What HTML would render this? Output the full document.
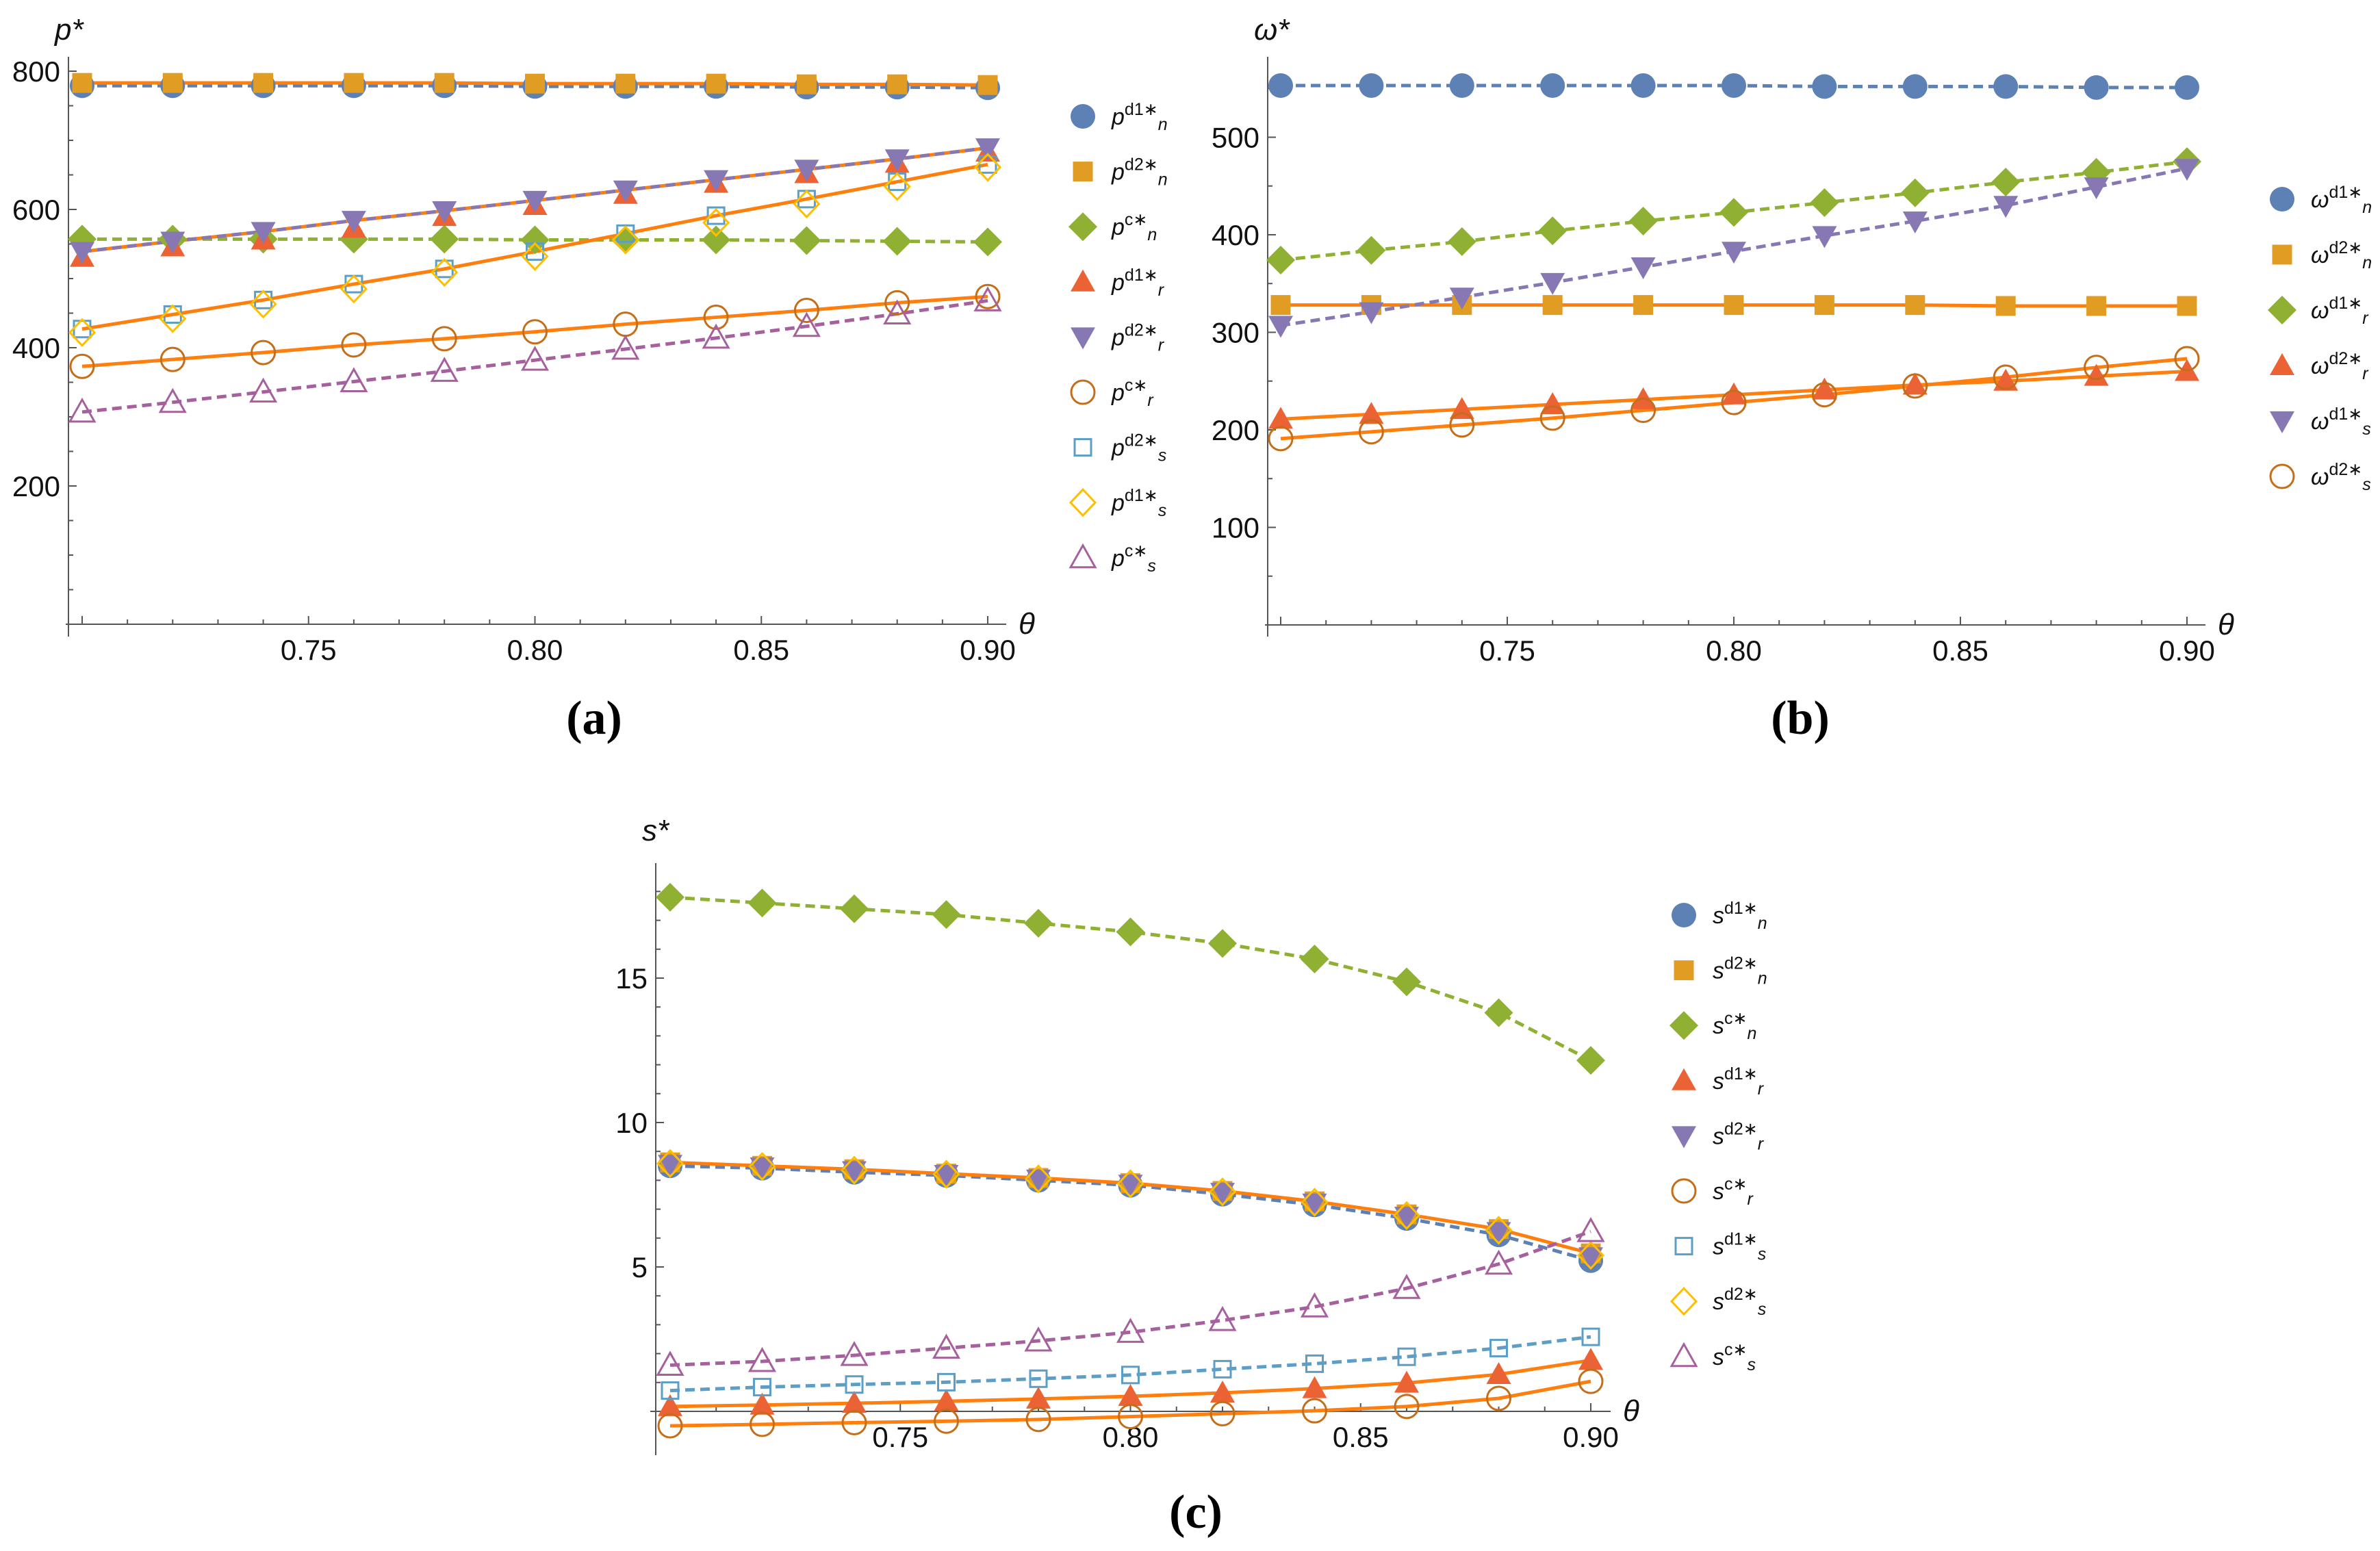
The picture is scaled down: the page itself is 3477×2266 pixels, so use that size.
<!DOCTYPE html>
<html><head><meta charset="utf-8"><style>
html,body{margin:0;padding:0;background:#fff;}
svg{display:block;}
text{font-family:"Liberation Sans",sans-serif;}
text.cap{font-family:"Liberation Serif",serif;font-weight:bold;}
</style></head><body>
<svg id="fig" width="3477" height="2266" viewBox="0 0 3477 2266" xmlns="http://www.w3.org/2000/svg">
<rect x="0" y="0" width="3477" height="2266" fill="#fff"/>
<g id="pa"></g>
<g id="pb"></g>
<g id="pc"></g>
<text class="cap" x="868" y="1072" font-size="70" text-anchor="middle">(a)</text>
<text class="cap" x="2630" y="1072" font-size="70" text-anchor="middle">(b)</text>
<text class="cap" x="1747" y="2232" font-size="70" text-anchor="middle">(c)</text>
</svg>
<script>
const NS="http://www.w3.org/2000/svg";
const thetas=[0.70,0.72,0.74,0.76,0.78,0.80,0.82,0.84,0.86,0.88,0.90];
const xTickLabels=["0.75","0.80","0.85","0.90"];
// panel a data
const a_d1n=[779,779,779,779,779,778,778,778,777,777,776];
const a_d2n=[783,783,783,783,783,782,782,782,781,781,780];
const a_cn=[557,557,557,557,557,556,556,556,555,554,553];
const a_d1r=[531,546,556,573,590,606,622,638,652,667,683];
const a_d2r=[539,554,568,584,598,613,628,643,658,673,689];
const a_cr=[373,383,393,404,413,423,434,444,454,465,474];
const a_d2s=[427,448,469,492,514,539,565,591,615,640,665];
const a_d1s=[422,442,463,485,509,532,556,581,608,633,661];
const a_cs=[307,321,336,351,366,382,398,414,431,449,468];
const a_yTicks=[200,400,600,800];
// panel b data
const b_d1n=[553,553,553,553,553,553,552,552,552,551,551];
const b_d2n=[328,328,328,328,328,328,328,328,327,327,327];
const b_d1r=[374,384,393,404,414,423,433,443,454,464,475];
const b_d2r=[211,216,221,226,231,236,241,246,250,255,260];
const b_d1s=[307,321,336,351,367,383,399,414,430,449,468];
const b_d2s=[191,198,205,212,220,228,236,245,254,264,273];
const b_yTicks=[100,200,300,400,500];
// panel c data
const c_d1n=[8.50,8.42,8.28,8.17,8.00,7.83,7.52,7.15,6.68,6.11,5.22];
const c_d2n=[8.62,8.50,8.38,8.23,8.08,7.90,7.63,7.27,6.82,6.31,5.47];
const c_cn=[17.8,17.6,17.4,17.2,16.9,16.6,16.2,15.66,14.87,13.8,12.15];
const c_d1r=[0.17,0.22,0.28,0.35,0.43,0.52,0.64,0.79,0.98,1.28,1.77];
const c_d2r=[8.55,8.46,8.33,8.20,8.04,7.86,7.58,7.21,6.75,6.22,5.35];
const c_cr=[-0.50,-0.45,-0.39,-0.34,-0.28,-0.18,-0.08,0.02,0.17,0.45,1.04];
const c_d1s=[0.72,0.84,0.93,1.01,1.13,1.26,1.46,1.65,1.89,2.19,2.58];
const c_d2s=[8.58,8.48,8.35,8.21,8.05,7.88,7.60,7.24,6.78,6.27,5.40];
const c_cs=[1.60,1.73,1.94,2.19,2.44,2.74,3.15,3.62,4.26,5.10,6.23];
const c_yTicks=[5,10,15];

const OR="#ff7f0e";
function el(tag,attrs,parent){const e=document.createElementNS(NS,tag);for(const k in attrs)e.setAttribute(k,attrs[k]);parent.appendChild(e);return e;}

function marker(g,shape,color,cx,cy,name){
  let e;
  if(shape==="circle"||shape==="ocircle"){e=el("circle",{cx:cx,cy:cy,r:shape==="circle"?18:17},g);}
  else if(shape==="square"||shape==="osquare"){const s=shape==="square"?29:24;e=el("rect",{x:cx-s/2,y:cy-s/2,width:s,height:s},g);}
  else if(shape==="diamond"||shape==="odiamond"){const w=shape==="diamond"?21:18,h=shape==="diamond"?21:19;e=el("polygon",{points:`${cx-w},${cy} ${cx},${cy-h} ${cx+w},${cy} ${cx},${cy+h}`},g);}
  else if(shape==="tri"||shape==="otri"){e=el("polygon",{points:`${cx-18},${cy+14} ${cx},${cy-18} ${cx+18},${cy+14}`},g);}
  else if(shape==="itri"){e=el("polygon",{points:`${cx-18},${cy-14} ${cx},${cy+18} ${cx+18},${cy-14}`},g);}
  if(shape.startsWith("o")){e.setAttribute("fill","none");e.setAttribute("stroke",color);e.setAttribute("stroke-width","3");}
  else e.setAttribute("fill",color);
  
  
  return e;
}

function panel(cfg){
  const g=document.getElementById(cfg.id);
  const X=t=>cfg.x0+(t-0.70)/(0.20)*(cfg.x1-cfg.x0);
  const Y=v=>cfg.y0-v*cfg.ppu;
  const ya=el("line",{x1:cfg.ax,y1:cfg.ytop,x2:cfg.ax,y2:cfg.ybot,stroke:"#555","stroke-width":2},g);
  
  const xa=el("line",{x1:cfg.xl,y1:cfg.y0,x2:cfg.xr,y2:cfg.y0,stroke:"#555","stroke-width":2},g);
  
  for(let k=0;k<=20;k++){const t=0.70+k*0.01;const maj=(k%5===0);
    el("line",{x1:X(t),y1:cfg.y0,x2:X(t),y2:cfg.y0-(maj?12:7),stroke:"#555","stroke-width":2},g);}
  xTickLabels.forEach(s=>{const t=el("text",{x:X(parseFloat(s)),y:cfg.y0+52,"font-size":42,"text-anchor":"middle",fill:"#111"},g);t.textContent=s;
    });
  for(let v=cfg.minor;v<=cfg.ymaxTick;v+=cfg.minor){if(Y(v)<cfg.ytop)break;const maj=cfg.yTicks.includes(v);
    el("line",{x1:cfg.ax,y1:Y(v),x2:cfg.ax+(maj?12:7),y2:Y(v),stroke:"#555","stroke-width":2},g);}
  cfg.yTicks.forEach(v=>{const t=el("text",{x:cfg.ax-12,y:Y(v)+15,"font-size":42,"text-anchor":"end",fill:"#111"},g);t.textContent=v;
    });
  const yl=el("text",{x:cfg.ylab[0],y:cfg.ylab[1],"font-size":44,"font-style":"italic",fill:"#111"},g);
  yl.textContent=cfg.ysym+"*";
  
  const xl=el("text",{x:cfg.xr+18,y:cfg.y0+14,"font-size":44,"font-style":"italic",fill:"#111"},g);
  xl.textContent="θ";
  
  cfg.series.forEach(s=>{
    if(!s.lc)return;
    const pts=s.data.map((v,i)=>X(thetas[i])+","+Y(v)).join(" ");
    if(s.under){const u=el("polyline",{points:pts,fill:"none",stroke:OR,"stroke-width":5},g);
      }
    const pl=el("polyline",{points:pts,fill:"none",stroke:s.lc,"stroke-width":5,"stroke-dasharray":s.dash?"14 8":"none"},g);
    
  });
  cfg.series.forEach(s=>{s.data.forEach((v,i)=>marker(g,s.shape,s.mc,X(thetas[i]),Y(v),s.key+'-point'));});
  cfg.series.forEach((s,i)=>{const ly=cfg.leg[1]+i*cfg.leg[2];
    marker(g,s.shape,s.mc,cfg.leg[0],ly,'legend-marker-'+s.key);
    const t=el("text",{x:cfg.leg[0]+42,y:ly+12,"font-size":34,fill:"#111"},g);
    
    const b=el("tspan",{"font-style":"italic"},t);b.textContent=cfg.ysym;
    const sp=el("tspan",{dy:-14,"font-size":25},t);sp.textContent=s.sup+"∗";
    const sb=el("tspan",{dy:22,"font-size":25,"font-style":"italic"},t);sb.textContent=s.sub;
  });
}

panel({id:"pa",x0:120,x1:1443,y0:912,ppu:1.01,ax:100,ytop:83,ybot:930,xl:96,xr:1470,minor:50,ymaxTick:800,yTicks:a_yTicks,
  ylab:[80,58],ysym:"p",leg:[1582,170,80.6],series:[
  {key:"pd1n",data:a_d1n,shape:"circle",mc:"#5e81b5",lc:"#5e81b5",dash:true,sup:"d1",sub:"n"},
  {key:"pd2n",data:a_d2n,shape:"square",mc:"#e19c24",lc:OR,dash:false,sup:"d2",sub:"n"},
  {key:"pcn",data:a_cn,shape:"diamond",mc:"#8fb032",lc:"#8fb032",dash:true,sup:"c",sub:"n"},
  {key:"pd1r",data:a_d1r,shape:"tri",mc:"#eb6235",lc:null,dash:false,sup:"d1",sub:"r"},
  {key:"pd2r",data:a_d2r,shape:"itri",mc:"#8778b3",lc:"#8778b3",dash:true,under:true,sup:"d2",sub:"r"},
  {key:"pcr",data:a_cr,shape:"ocircle",mc:"#c56e1a",lc:OR,dash:false,sup:"c",sub:"r"},
  {key:"pd2s",data:a_d2s,shape:"osquare",mc:"#5d9ec7",lc:OR,dash:false,sup:"d2",sub:"s"},
  {key:"pd1s",data:a_d1s,shape:"odiamond",mc:"#ffbf00",lc:null,dash:false,sup:"d1",sub:"s"},
  {key:"pcs",data:a_cs,shape:"otri",mc:"#a5609d",lc:"#a5609d",dash:true,sup:"c",sub:"s"}]});

panel({id:"pb",x0:1871,x1:3195,y0:913,ppu:1.425,ax:1852,ytop:83,ybot:930,xl:1848,xr:3222,minor:50,ymaxTick:550,yTicks:b_yTicks,
  ylab:[1832,58],ysym:"ω",leg:[3334,291,81],series:[
  {key:"wd1n",data:b_d1n,shape:"circle",mc:"#5e81b5",lc:"#5e81b5",dash:true,sup:"d1",sub:"n"},
  {key:"wd2n",data:b_d2n,shape:"square",mc:"#e19c24",lc:OR,dash:false,sup:"d2",sub:"n"},
  {key:"wd1r",data:b_d1r,shape:"diamond",mc:"#8fb032",lc:"#8fb032",dash:true,sup:"d1",sub:"r"},
  {key:"wd2r",data:b_d2r,shape:"tri",mc:"#eb6235",lc:OR,dash:false,sup:"d2",sub:"r"},
  {key:"wd1s",data:b_d1s,shape:"itri",mc:"#8778b3",lc:"#8778b3",dash:true,sup:"d1",sub:"s"},
  {key:"wd2s",data:b_d2s,shape:"ocircle",mc:"#c56e1a",lc:OR,dash:false,sup:"d2",sub:"s"}]});

panel({id:"pc",x0:979,x1:2324,y0:2062,ppu:42.2,ax:958,ytop:1261,ybot:2126,xl:950,xr:2353,minor:1,ymaxTick:18,yTicks:c_yTicks,
  ylab:[938,1228],ysym:"s",leg:[2460,1337,80.6],series:[
  {key:"sd1n",data:c_d1n,shape:"circle",mc:"#5e81b5",lc:"#5e81b5",dash:true,sup:"d1",sub:"n"},
  {key:"sd2n",data:c_d2n,shape:"square",mc:"#e19c24",lc:OR,dash:false,sup:"d2",sub:"n"},
  {key:"scn",data:c_cn,shape:"diamond",mc:"#8fb032",lc:"#8fb032",dash:true,sup:"c",sub:"n"},
  {key:"sd1r",data:c_d1r,shape:"tri",mc:"#eb6235",lc:OR,dash:false,sup:"d1",sub:"r"},
  {key:"sd2r",data:c_d2r,shape:"itri",mc:"#8778b3",lc:null,dash:false,sup:"d2",sub:"r"},
  {key:"scr",data:c_cr,shape:"ocircle",mc:"#c56e1a",lc:OR,dash:false,sup:"c",sub:"r"},
  {key:"sd1s",data:c_d1s,shape:"osquare",mc:"#5d9ec7",lc:"#5d9ec7",dash:true,sup:"d1",sub:"s"},
  {key:"sd2s",data:c_d2s,shape:"odiamond",mc:"#ffbf00",lc:null,dash:false,sup:"d2",sub:"s"},
  {key:"scs",data:c_cs,shape:"otri",mc:"#a5609d",lc:"#a5609d",dash:true,sup:"c",sub:"s"}]});
</script>
</body></html>
